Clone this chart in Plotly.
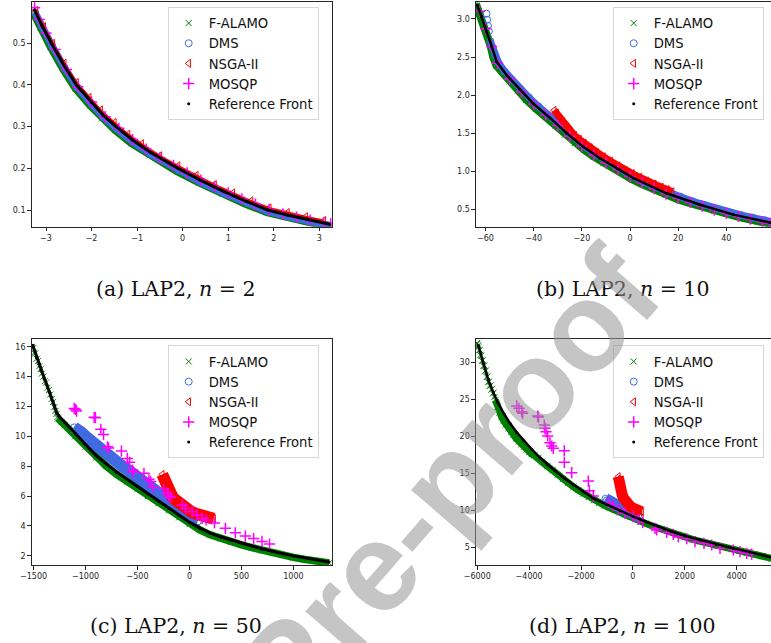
import plotly.graph_objects as go

# ---------------- data ----------------
# (a) LAP2, n = 2
REF_A_X = [-3.25, -3.1, -2.88, -2.6, -2.33, -2.0, -1.75, -1.46, -1.1, -0.7, -0.1, 0.4, 0.9, 1.4, 1.87, 2.3, 2.75, 3.23]
REF_A_Y = [0.58, 0.545, 0.50, 0.446, 0.40, 0.358, 0.328, 0.30, 0.268, 0.238, 0.20, 0.171, 0.145, 0.121, 0.10, 0.088, 0.077, 0.066]
ALAMO_A_X = [-3.27, -3.12, -2.9, -2.62, -2.35, -2.02, -1.77, -1.48, -1.12, -0.72, -0.12, 0.38, 0.88, 1.38, 1.85, 2.28, 2.73, 3.25]
ALAMO_A_Y = [0.572, 0.538, 0.492, 0.438, 0.392, 0.350, 0.320, 0.292, 0.260, 0.231, 0.193, 0.165, 0.139, 0.115, 0.095, 0.083, 0.072, 0.061]
DMS_A_X = [-3.24, -3.09, -2.87, -2.59, -2.32, -1.99, -1.74, -1.45, -1.09, -0.69, -0.09, 0.41, 0.91, 1.41, 1.88, 2.31, 2.76, 3.24]
DMS_A_Y = [0.574, 0.540, 0.495, 0.441, 0.395, 0.353, 0.323, 0.295, 0.263, 0.233, 0.195, 0.166, 0.140, 0.117, 0.096, 0.084, 0.073, 0.062]
NSGA_A_X = [-3.22, -3.05, -2.85, -2.6, -2.33, -2.05, -1.8, -1.5, -1.2, -0.9, -0.5, -0.1, 0.3, 0.7, 1.1, 1.5, 1.9, 2.3, 2.7, 3.1]
NSGA_A_Y = [0.579, 0.540, 0.500, 0.452, 0.406, 0.370, 0.340, 0.310, 0.282, 0.259, 0.230, 0.206, 0.183, 0.161, 0.141, 0.122, 0.105, 0.094, 0.084, 0.075]
MOSQP_A_X = [-3.25, -3.15, -3.0, -2.8, -2.55, -2.3, -2.0, -1.7, -1.4, -1.1, -0.8, -0.5, -0.2, 0.1, 0.4, 0.7, 1.0, 1.3, 1.6, 1.9, 2.2, 2.5, 2.8, 3.1, 3.25]
MOSQP_A_Y = [0.585, 0.557, 0.525, 0.485, 0.437, 0.396, 0.359, 0.324, 0.296, 0.269, 0.246, 0.225, 0.207, 0.189, 0.172, 0.156, 0.141, 0.127, 0.114, 0.101, 0.091, 0.083, 0.076, 0.070, 0.067]

# (b) LAP2, n = 10
REF_B_X = [-63.4, -61.6, -59.5, -57.4, -55.4, -51.2, -45.7, -40.2, -33.2, -26.3, -19.4, -12.5, -5.5, 1.4, 15.2, 29.1, 42.9, 58.1]
REF_B_Y = [3.18, 3.03, 2.83, 2.64, 2.44, 2.26, 2.07, 1.89, 1.70, 1.50, 1.32, 1.17, 1.04, 0.91, 0.71, 0.56, 0.43, 0.325]
ALAMO_B_X = [-64.0, -62.8, -61.5, -60.2, -58.9, -57.8, -56.8, -55.5, -53.0, -50.0, -46.5, -43.0, -39.0, -35.0, -31.0, -27.0, -23.0, -19.0, -15.0, -11.0, -7.0, -3.0, 1.0, 5.0, 10.0, 15.0, 20.0, 25.0, 30.0, 35.0, 40.0, 45.0, 50.0, 55.0, 60.0]
ALAMO_B_Y = [3.20, 3.10, 2.99, 2.87, 2.75, 2.64, 2.50, 2.39, 2.30, 2.18, 2.06, 1.94, 1.82, 1.71, 1.60, 1.48, 1.37, 1.28, 1.19, 1.11, 1.04, 0.96, 0.89, 0.83, 0.76, 0.69, 0.63, 0.58, 0.53, 0.48, 0.44, 0.40, 0.365, 0.33, 0.30]
DMS_B_TOP_X = [-59.6, -59.3, -59.0, -58.6]
DMS_B_TOP_Y = [3.07, 2.99, 2.91, 2.84]
DMS_B_X = [-58.0, -57.0, -56.0, -54.5, -52.0, -49.0, -45.5, -42.0, -38.0, -34.0, -30.0, -26.0, -22.0, -18.0, -14.0, -10.0, -6.0, -2.0, 2.0, 6.0, 11.0, 16.0, 21.0, 26.0, 31.0, 36.0, 41.0, 46.0, 51.0, 56.0, 60.0]
DMS_B_Y = [2.71, 2.62, 2.52, 2.42, 2.31, 2.20, 2.08, 1.97, 1.85, 1.74, 1.63, 1.51, 1.42, 1.31, 1.22, 1.14, 1.07, 0.99, 0.92, 0.855, 0.785, 0.715, 0.665, 0.605, 0.555, 0.505, 0.46, 0.425, 0.39, 0.355, 0.33]
NSGA_B_X = [-31.5, -30.5, -29.5, -28.0, -26.5, -25.0, -23.0, -21.0, -19.0, -16.5, -14.0, -11.0, -8.0, -5.0, -2.0, 1.0, 4.0, 7.0, 10.0, 13.0, 15.5, 17.5]
NSGA_B_Y = [1.80, 1.76, 1.71, 1.65, 1.59, 1.53, 1.47, 1.42, 1.37, 1.31, 1.25, 1.19, 1.13, 1.07, 1.01, 0.97, 0.92, 0.87, 0.83, 0.79, 0.76, 0.73]
MOSQP_B_X = [-62.5, -60.0, -57.5, -55.0, -50.0, -45.0, -40.0, -35.0, -30.0, -25.0, -20.0, -15.0, -10.0, -5.0, 0.0, 5.0, 10.0, 15.0, 20.0, 25.0, 30.0, 35.0, 40.0, 45.0, 50.0, 55.0, 58.0]
MOSQP_B_Y = [3.10, 2.87, 2.64, 2.42, 2.21, 2.04, 1.88, 1.74, 1.60, 1.46, 1.33, 1.21, 1.11, 1.02, 0.93, 0.85, 0.77, 0.70, 0.645, 0.59, 0.54, 0.49, 0.445, 0.405, 0.37, 0.335, 0.315]

# (c) LAP2, n = 50
REF_C_X = [-1508, -1470, -1430, -1395, -1365, -1330, -1300, -1275, -1250, -1200, -1100, -1000, -900, -800, -700, -600, -500, -400, -300, -200, -100, 0, 100, 200, 300, 400, 500, 600, 700, 800, 900, 1000, 1100, 1200, 1300, 1340]
REF_C_Y = [16.1, 15.3, 14.45, 13.85, 13.3, 12.65, 12.0, 11.55, 11.3, 10.95, 10.2, 9.45, 8.73, 8.15, 7.6, 7.12, 6.64, 6.15, 5.67, 5.2, 4.7, 4.25, 3.85, 3.52, 3.27, 3.05, 2.85, 2.65, 2.46, 2.28, 2.13, 1.99, 1.86, 1.75, 1.63, 1.58]
ALAMO_C_UP_X = [-1515, -1505, -1495, -1485, -1470, -1458, -1445, -1432, -1420, -1405, -1392, -1380, -1366, -1352, -1340, -1326, -1312, -1300, -1290, -1280, -1270]
ALAMO_C_UP_Y = [16.0, 15.9, 15.6, 15.55, 15.2, 15.05, 14.7, 14.5, 14.2, 14.0, 13.7, 13.6, 13.25, 13.1, 12.8, 12.5, 12.3, 11.95, 11.7, 11.5, 11.3]
ALAMO_C_X = [-1265, -1230, -1200, -1100, -1000, -900, -800, -700, -600, -500, -400, -300, -200, -100, 0, 100, 200, 300, 400, 500, 600, 700, 800, 900, 1000, 1100, 1200, 1300, 1345]
ALAMO_C_Y = [11.2, 10.95, 10.75, 10.0, 9.3, 8.57, 8.0, 7.45, 6.97, 6.5, 6.0, 5.52, 5.06, 4.57, 4.12, 3.73, 3.40, 3.15, 2.93, 2.73, 2.54, 2.35, 2.18, 2.03, 1.89, 1.77, 1.66, 1.55, 1.52]
DMS_C_X = [-1110, -1080, -1040, -1000, -950, -900, -850, -800, -750, -700, -650, -600, -550, -500, -450, -400, -350, -300, -250, -200, -150, -100, -50, 0, 40, 80]
DMS_C_Y = [10.6, 10.5, 10.27, 10.0, 9.68, 9.35, 9.05, 8.78, 8.52, 8.26, 8.02, 7.78, 7.54, 7.3, 7.05, 6.8, 6.56, 6.32, 6.07, 5.82, 5.52, 5.2, 4.93, 4.65, 4.48, 4.3]
NSGA_C_X = [-262, -250, -238, -225, -212, -198, -182, -165, -145, -122, -98, -72, -45, -15, 20, 60, 100, 145, 190, 232]
NSGA_C_Y = [7.45, 7.2, 6.95, 6.7, 6.45, 6.28, 6.1, 5.95, 5.8, 5.65, 5.52, 5.38, 5.24, 5.08, 4.93, 4.82, 4.73, 4.63, 4.55, 4.48]
MOSQP_C_X = [-1109, -1095, -1086, -917, -905, -853, -827, -789, -778, -655, -598, -576, -547, -540, -438, -390, -374, -352, -246, -214, -198, -182, -70, -38, 26, 74, 122, 160, 240, 345, 441, 537, 617, 697, 770]
MOSQP_C_Y = [11.87, 11.8, 11.69, 11.27, 11.25, 10.47, 10.13, 9.30, 9.22, 9.01, 8.52, 8.26, 7.74, 7.62, 7.52, 7.12, 6.97, 6.62, 6.47, 6.18, 6.0, 5.92, 5.40, 5.18, 4.95, 4.73, 4.51, 4.4, 4.2, 3.84, 3.54, 3.32, 3.15, 2.96, 2.78]

# (d) LAP2, n = 100
REF_D_X = [-5960, -5767, -5574, -5380, -5189, -4960, -4738, -4480, -4225, -3900, -3581, -3300, -3000, -2650, -2296, -1900, -1525, -1000, -500, 0, 500, 1000, 1500, 2000, 2587, 3200, 3870, 4500, 5000, 5330]
REF_D_Y = [32.3, 29.86, 27.6, 25.9, 24.4, 23.0, 21.76, 20.55, 19.5, 18.25, 17.1, 16.2, 15.35, 14.35, 13.42, 12.5, 11.62, 10.75, 9.95, 9.17, 8.45, 7.77, 7.13, 6.55, 5.99, 5.43, 4.86, 4.35, 3.95, 3.65]
ALAMO_D_UP_X = [-6010, -5995, -5975, -5955, -5930, -5905, -5880, -5850, -5820, -5790, -5760, -5730, -5700, -5670, -5640, -5610, -5580, -5550, -5520, -5490, -5460, -5430, -5400, -5370, -5340]
ALAMO_D_UP_Y = [32.6, 32.5, 32.0, 32.3, 31.6, 31.7, 31.0, 30.9, 30.2, 30.3, 29.5, 29.6, 28.8, 28.9, 28.0, 28.1, 27.3, 27.4, 26.8, 26.9, 26.3, 26.4, 25.8, 25.9, 25.3]
ALAMO_D_X = [-5300, -5220, -5140, -5060, -4980, -4900, -4800, -4700, -4600, -4500, -4400, -4300, -4200, -4100, -4000, -3900, -3800, -3650, -3500, -3300, -3100, -2900, -2700, -2500, -2300, -2100, -1900, -1700, -1500, -1300, -1100, -900, -700, -500, -300, -100, 100, 300, 500, 800, 1100, 1400, 1700, 2000, 2300, 2600, 2900, 3200, 3500, 3800, 4100, 4400, 4700, 5000, 5350]
ALAMO_D_Y = [24.9, 24.0, 23.2, 22.6, 22.1, 21.6, 21.1, 20.6, 20.2, 19.7, 19.3, 18.9, 18.6, 18.2, 17.9, 17.6, 17.4, 17.05, 16.6, 15.95, 15.4, 14.8, 14.25, 13.7, 13.2, 12.72, 12.25, 11.8, 11.35, 11.0, 10.65, 10.33, 10.0, 9.7, 9.4, 9.08, 8.8, 8.5, 8.22, 7.82, 7.43, 7.06, 6.7, 6.36, 6.07, 5.8, 5.53, 5.26, 5.0, 4.75, 4.51, 4.27, 4.04, 3.8, 3.5]
DMS_D_X = [-1060, -1000, -900, -800, -700, -600, -500, -400, -300, -200, -100, 0, 100, 200, 260]
DMS_D_Y = [11.55, 11.35, 11.15, 10.98, 10.82, 10.66, 10.5, 10.32, 10.15, 9.98, 9.8, 9.62, 9.45, 9.28, 9.15]
NSGA_D_X = [-565, -555, -540, -522, -500, -475, -445, -410, -370, -320, -260, -190, -110, -20, 80, 180, 270, 335]
NSGA_D_Y = [14.55, 14.2, 13.85, 13.5, 13.15, 12.8, 12.43, 12.05, 11.7, 11.38, 11.05, 10.78, 10.55, 10.35, 10.15, 10.0, 9.88, 9.8]
MOSQP_D_X = [-4480, -4391, -4287, -4250, -3671, -3640, -3415, -3389, -3350, -3285, -3196, -3130, -3069, -2645, -2645, -2359, -1719, -1681, -1527, -948, -756, -563, -305, 15, 208, 378, 852, 917, 1303, 1557, 1750, 2074, 2394, 2741, 3038, 3358, 3870, 4129, 4387, 4580]
MOSQP_D_Y = [24.1, 23.78, 23.33, 23.1, 22.74, 22.6, 21.53, 21.08, 20.62, 20.04, 19.14, 18.69, 18.38, 18.05, 16.49, 15.08, 13.96, 12.65, 11.93, 11.03, 10.62, 10.13, 9.59, 9.14, 8.78, 8.38, 7.57, 7.34, 7.03, 6.76, 6.43, 6.16, 5.76, 5.54, 5.31, 4.86, 4.64, 4.41, 4.19, 4.09]

# axis ticks and captions
TICKS_A_X = [-3, -2, -1, 0, 1, 2, 3]
TICKS_A_Y = [0.1, 0.2, 0.3, 0.4, 0.5]
TICKS_B_X = [-60, -40, -20, 0, 20, 40, 60]
TICKS_B_Y = [0.5, 1.0, 1.5, 2.0, 2.5, 3.0]
TICKS_C_X = [-1500, -1000, -500, 0, 500, 1000]
TICKS_C_Y = [2, 4, 6, 8, 10, 12, 14, 16]
TICKS_D_X = [-6000, -4000, -2000, 0, 2000, 4000]
TICKS_D_Y = [5, 10, 15, 20, 25, 30]
CAPTIONS = ["(a) LAP2, <i>n</i> = 2", "(b) LAP2, <i>n</i> = 10", "(c) LAP2, <i>n</i> = 50", "(d) LAP2, <i>n</i> = 100"]
SERIES = ["F-ALAMO", "DMS", "NSGA-II", "MOSQP", "Reference Front"]

# ---------------- figure ----------------
W, H = 771, 643
GREEN, BLUE, RED, MAGENTA, BLACK = "#008000", "#4169E1", "#FF0000", "#FF00FF", "#000000"
AXC = "#262626"
TICKFONT = dict(family="DejaVu Sans", size=8, color=AXC)


def fx(p):
    return p / W


def fy(p):
    return 1 - p / H


fig = go.Figure()

panels = [
    dict(n="", leg="legend", dx=(31.7, 331.7), dy=(1.7, 226.7), xr=[-3.314, 3.272], yr=[0.060, 0.5998],
         tx=TICKS_A_X, ty=TICKS_A_Y, yfmt=".1f", mirror=True,
         ref=(REF_A_X, REF_A_Y), al=(ALAMO_A_X, ALAMO_A_Y), dm=(DMS_A_X, DMS_A_Y), ns=(NSGA_A_X, NSGA_A_Y),
         mo=(MOSQP_A_X, MOSQP_A_Y), bw=(8, 7, 2, 3), legpos=(167.7, 7.0)),
    dict(n="2", leg="legend2", dx=(476, 771), dy=(1.7, 226.7), xr=[-63.95, 58.55], yr=[0.271, 3.227],
         tx=TICKS_B_X, ty=TICKS_B_Y, yfmt=".1f", mirror=False,
         ref=(REF_B_X, REF_B_Y), al=(ALAMO_B_X, ALAMO_B_Y), dm=(DMS_B_X, DMS_B_Y), ns=(NSGA_B_X, NSGA_B_Y),
         mo=(MOSQP_B_X, MOSQP_B_Y), bw=(8, 7, 7, 2.5), legpos=(612.7, 7.0), dms_extra=(DMS_B_TOP_X, DMS_B_TOP_Y)),
    dict(n="3", leg="legend3", dx=(31.7, 331.7), dy=(339.3, 565), xr=[-1518, 1368], yr=[1.38, 16.5],
         tx=TICKS_C_X, ty=TICKS_C_Y, yfmt="", mirror=True,
         ref=(REF_C_X, REF_C_Y), al=(ALAMO_C_X, ALAMO_C_Y), dm=(DMS_C_X, DMS_C_Y), ns=(NSGA_C_X, NSGA_C_Y),
         mo=(MOSQP_C_X, MOSQP_C_Y), bw=(7.5, 12, 12, 3), legpos=(167.7, 345.4),
         al_extra=(ALAMO_C_UP_X, ALAMO_C_UP_Y)),
    dict(n="4", leg="legend4", dx=(476, 771), dy=(339.3, 565), xr=[-6049, 5324], yr=[2.61, 33.11],
         tx=TICKS_D_X, ty=TICKS_D_Y, yfmt="", mirror=False,
         ref=(REF_D_X, REF_D_Y), al=(ALAMO_D_X, ALAMO_D_Y), dm=(DMS_D_X, DMS_D_Y), ns=(NSGA_D_X, NSGA_D_Y),
         mo=(MOSQP_D_X, MOSQP_D_Y), bw=(7, 12, 11, 2.5), legpos=(612.7, 345.4),
         al_extra=(ALAMO_D_UP_X, ALAMO_D_UP_Y)),
]

M_ALAMO = dict(symbol="x-thin-open", size=6, color=GREEN, line=dict(color=GREEN, width=1))
M_DMS = dict(symbol="circle-open", size=7, color=BLUE, line=dict(color=BLUE, width=1))
M_NSGA = dict(symbol="triangle-left-open", size=7, color=RED, line=dict(color=RED, width=1))
M_MOSQP = dict(symbol="cross-thin-open", size=8, color=MAGENTA, line=dict(color=MAGENTA, width=1.5))

for p in panels:
    xa, ya = "x" + p["n"], "y" + p["n"]
    common = dict(xaxis=xa, yaxis=ya, legend=p["leg"], hoverinfo="skip")
    bwA, bwD, bwN, bwR = p["bw"]
    # F-ALAMO
    fig.add_trace(go.Scatter(x=p["al"][0], y=p["al"][1], mode="lines", line=dict(color=GREEN, width=bwA),
                             showlegend=False, **common))
    if "al_extra" in p:
        fig.add_trace(go.Scatter(x=p["al_extra"][0], y=p["al_extra"][1], mode="markers", showlegend=False,
                                 marker=M_ALAMO, **common))
    fig.add_trace(go.Scatter(x=p["al"][0], y=p["al"][1], mode="markers", name=SERIES[0], marker=M_ALAMO, **common))
    # DMS
    fig.add_trace(go.Scatter(x=p["dm"][0], y=p["dm"][1], mode="lines", line=dict(color=BLUE, width=bwD),
                             showlegend=False, **common))
    if "dms_extra" in p:
        fig.add_trace(go.Scatter(x=p["dms_extra"][0], y=p["dms_extra"][1], mode="markers", showlegend=False,
                                 marker=M_DMS, **common))
    fig.add_trace(go.Scatter(x=p["dm"][0], y=p["dm"][1], mode="markers", name=SERIES[1], marker=M_DMS, **common))
    # NSGA-II
    fig.add_trace(go.Scatter(x=p["ns"][0], y=p["ns"][1], mode="lines", line=dict(color=RED, width=bwN),
                             showlegend=False, **common))
    fig.add_trace(go.Scatter(x=p["ns"][0], y=p["ns"][1], mode="markers", name=SERIES[2], marker=M_NSGA, **common))
    # MOSQP
    fig.add_trace(go.Scatter(x=p["mo"][0], y=p["mo"][1], mode="markers", name=SERIES[3], marker=M_MOSQP, **common))
    # Reference front
    fig.add_trace(go.Scatter(x=p["ref"][0], y=p["ref"][1], mode="lines", line=dict(color=BLACK, width=bwR),
                             showlegend=False, **common))
    fig.add_trace(go.Scatter(x=p["ref"][0], y=p["ref"][1], mode="markers", name=SERIES[4],
                             marker=dict(symbol="circle", size=3, color=BLACK), **common))

    fig.update_layout(**{
        "xaxis" + p["n"]: dict(domain=[fx(p["dx"][0]), fx(p["dx"][1])], anchor=ya, range=p["xr"],
                               tickvals=p["tx"], showline=True, mirror=True, linecolor=AXC, linewidth=1.1,
                               ticks="outside", ticklen=3.5, tickwidth=1, tickcolor=AXC, tickfont=TICKFONT,
                               showgrid=False, zeroline=False, automargin=False),
        "yaxis" + p["n"]: dict(domain=[fy(p["dy"][1]), fy(p["dy"][0])], anchor=xa, range=p["yr"],
                               tickvals=p["ty"], tickformat=p["yfmt"], showline=True, mirror=p["mirror"],
                               linecolor=AXC, linewidth=1.1, ticks="outside", ticklen=3.5, tickwidth=1,
                               tickcolor=AXC, tickfont=TICKFONT, showgrid=False, zeroline=False, automargin=False),
        p["leg"]: dict(x=fx(p["legpos"][0]), y=fy(p["legpos"][1]), xanchor="left", yanchor="top",
                       bgcolor="rgba(255,255,255,0.8)", bordercolor="#d6d6d6", borderwidth=1,
                       font=dict(family="DejaVu Sans", size=13.2, color="#111111")),
    })

annotations = []
cap_pos = [(176, 289), (622, 289), (176, 626), (622, 626)]
for txt, (cx, cy) in zip(CAPTIONS, cap_pos):
    annotations.append(dict(text=txt, x=fx(cx), y=fy(cy), xref="paper", yref="paper", showarrow=False,
                            xanchor="center", yanchor="middle",
                            font=dict(family="DejaVu Serif", size=20.5, color="#111111")))
# watermark
annotations.append(dict(text="<b>Pre-proof</b>", x=fx(448), y=fy(482), xref="paper", yref="paper", showarrow=False,
                        xanchor="center", yanchor="middle", textangle=-49,
                        font=dict(family="Liberation Sans", size=126, color="rgba(150,150,150,0.55)")))

fig.update_layout(width=W, height=H, margin=dict(l=0, r=0, t=0, b=0, autoexpand=False), paper_bgcolor="white",
                  plot_bgcolor="white", annotations=annotations, showlegend=True, hovermode=False)

fig.write_html("out.html", config={"displayModeBar": False, "staticPlot": True},
               post_script="document.body.style.margin='0';document.body.style.padding='0';"
                           "document.body.style.overflow='hidden';")
